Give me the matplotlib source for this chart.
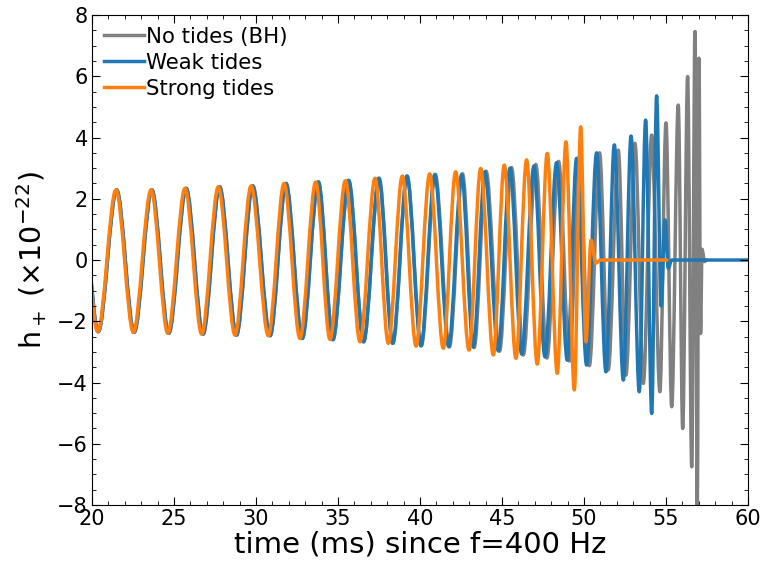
import matplotlib
matplotlib.use("Agg")
import matplotlib.pyplot as plt
from matplotlib.path import Path
from matplotlib.patches import PathPatch
from matplotlib.lines import Line2D
from matplotlib.ticker import MultipleLocator

# Colours
GRAY   = "#808080"
BLUE   = "#1f77b4"
ORANGE = "#ff7f0e"

# Extrema (peak / trough): time in ms, strain in 1e-22
# Waveforms are drawn as smooth curves through these turning points.
bh_t = [19.31, 20.38, 21.50, 22.57, 23.65, 24.68, 25.74, 26.77, 27.78, 28.81,
        29.80, 30.86, 31.83, 32.82, 33.80, 34.69, 35.65, 36.56, 37.50, 38.34,
        39.21, 40.08, 40.93, 41.79, 42.59, 43.30, 44.03, 44.85, 45.58, 46.30,
        47.06, 47.74, 48.45, 49.12, 49.70, 50.33, 50.95, 51.48, 52.09, 52.56,
        53.11, 53.62, 54.13, 54.63, 55.00, 55.35, 55.75, 56.02, 56.32, 56.57,
        56.77, 56.91, 57.01, 57.11, 57.20, 57.35, 57.48]
bh_h = [2.28, -2.34, 2.29, -2.36, 2.29, -2.39, 2.34, -2.42, 2.39, -2.45,
        2.42, -2.47, 2.50, -2.56, 2.55, -2.60, 2.60, -2.67, 2.67, -2.72,
        2.74, -2.80, 2.80, -2.84, 2.82, -2.86, 2.90, -2.98, 3.02, -3.10,
        3.12, -3.20, 3.22, -3.30, 3.35, -3.45, 3.50, -3.59, 3.59, -3.76,
        3.81, -4.03, 4.08, -4.30, 4.48, -4.79, 5.06, -5.50, 5.99, -6.75,
        7.46, -8.30, 6.59, -2.40, 0.35, -0.05, 0.0]

weak_t = [19.31, 20.38, 21.50, 22.57, 23.65, 24.68, 25.74, 26.77, 27.78, 28.81,
          29.80, 30.86, 31.83, 32.82, 33.80, 34.69, 35.65, 36.56, 37.50, 38.34,
          39.21, 40.06, 40.90, 41.75, 42.54, 43.25, 43.96, 44.77, 45.49, 46.20,
          46.95, 47.62, 48.33, 48.98, 49.55, 50.16, 50.77, 51.34, 51.85, 52.40,
          52.87, 53.37, 53.76, 54.13, 54.43, 54.70, 54.94, 55.14, 55.35, 60.0]
weak_h = [2.28, -2.34, 2.29, -2.36, 2.29, -2.39, 2.34, -2.42, 2.39, -2.45,
          2.42, -2.47, 2.50, -2.56, 2.55, -2.60, 2.60, -2.67, 2.67, -2.72,
          2.74, -2.80, 2.78, -2.82, 2.78, -2.83, 2.88, -2.96, 3.00, -3.07,
          3.07, -3.16, 3.18, -3.27, 3.32, -3.43, 3.50, -3.65, 3.76, -3.92,
          4.05, -4.30, 4.57, -5.01, 5.36, -1.50, 1.31, -0.27, 0.0, 0.0]

strong_t = [19.28, 20.35, 21.46, 22.52, 23.60, 24.62, 25.67, 26.69, 27.70, 28.72,
            29.70, 30.75, 31.71, 32.68, 33.64, 34.51, 35.45, 36.34, 37.26, 38.07,
            38.92, 39.76, 40.59, 41.42, 42.17, 42.99, 43.70, 44.47, 45.14, 45.85,
            46.50, 47.15, 47.76, 48.37, 48.90, 49.41, 49.80, 50.12, 50.43, 50.73,
            51.00, 55.06]
strong_h = [2.28, -2.34, 2.29, -2.36, 2.29, -2.39, 2.34, -2.42, 2.39, -2.45,
            2.42, -2.47, 2.50, -2.56, 2.54, -2.59, 2.59, -2.67, 2.67, -2.72,
            2.74, -2.81, 2.81, -2.88, 2.88, -2.94, 2.99, -3.10, 3.10, -3.21,
            3.27, -3.40, 3.48, -3.70, 3.86, -4.24, 4.35, -2.67, 0.65, -0.10,
            0.0, 0.0]


def turning_point_path(ts, hs):
    """Cubic Bezier path with flat tangents at each turning point."""
    verts = [(ts[0], hs[0])]
    codes = [Path.MOVETO]
    for (t0, h0), (t1, h1) in zip(zip(ts[:-1], hs[:-1]), zip(ts[1:], hs[1:])):
        dt = t1 - t0
        verts += [(t0 + dt / 3, h0), (t1 - dt / 3, h1), (t1, h1)]
        codes += [Path.CURVE4] * 3
    return Path(verts, codes)


fig = plt.figure(figsize=(7.63, 5.67), dpi=100)
ax = fig.add_axes([0.1206, 0.1093, 0.8597, 0.8642])

for ts, hs, color in [(bh_t, bh_h, GRAY), (weak_t, weak_h, BLUE), (strong_t, strong_h, ORANGE)]:
    ax.add_patch(PathPatch(turning_point_path(ts, hs), facecolor="none",
                           edgecolor=color, linewidth=2.5, capstyle="round",
                           joinstyle="round"))

ax.set_xlim(20, 60)
ax.set_ylim(-8, 8)
ax.xaxis.set_major_locator(MultipleLocator(5))
ax.xaxis.set_minor_locator(MultipleLocator(1))
ax.yaxis.set_major_locator(MultipleLocator(2))
ax.yaxis.set_minor_locator(MultipleLocator(0.5))
ax.tick_params(which="both", direction="in", top=True, right=True, labelsize=15)
ax.tick_params(which="major", length=6, pad=3)
ax.tick_params(which="minor", length=3)

ax.set_xlabel("time (ms) since f=400 Hz", fontsize=21, labelpad=1)
ax.set_ylabel(r"h$_+$ ($\times10^{-22}$)", fontsize=20.5, labelpad=6)

handles = [Line2D([], [], color=GRAY, lw=2.5),
           Line2D([], [], color=BLUE, lw=2.5),
           Line2D([], [], color=ORANGE, lw=2.5)]
ax.legend(handles, ["No tides (BH)", "Weak tides", "Strong tides"],
          loc="upper left", frameon=False, fontsize=15.3, handlelength=1.9,
          handletextpad=0.1, labelspacing=0.28, borderaxespad=0.3,
          borderpad=0.25)

fig.savefig("out.png", dpi=100)
